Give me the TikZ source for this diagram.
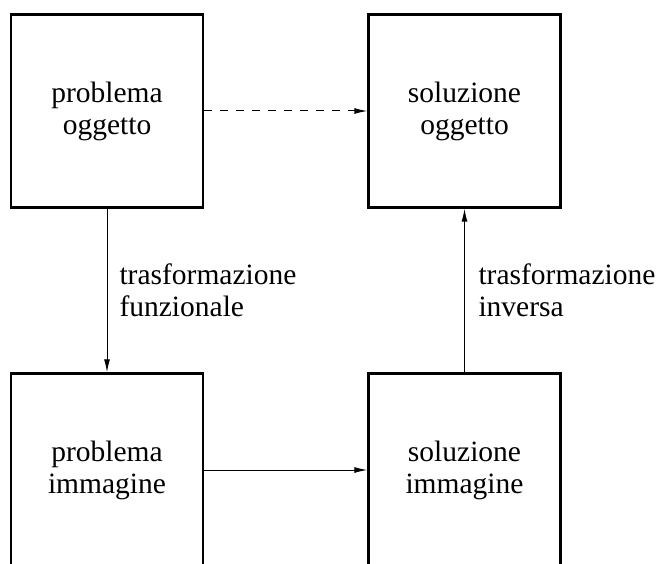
\documentclass[tikz,border=0pt]{standalone}
\usepackage{fontspec}
\setmainfont{Liberation Serif}
\usetikzlibrary{arrows.meta}

\begin{document}
\begin{tikzpicture}[x=1pt, y=1pt,
    box/.style={draw, line width=2.4pt, minimum width=192pt, minimum height=193pt,
      align=center, font=\fontsize{29.5}{32}\selectfont},
    link/.style={line width=1pt, -{Latex[length=13pt,width=6pt]}},
    note/.style={anchor=west, align=left, font=\fontsize{29.5}{32}\selectfont}]
        \useasboundingbox (0,0) rectangle (661,563);
        \clip (0,0) rectangle (661,563);

        % the four boxes
        \node [box] (probogg) at (107, 452) {problema\\oggetto};
        \node [box] (sologg) at (464.5, 452) {soluzione\\oggetto};
        \node [box] (probimm) at (107, 93) {problema\\immagine};
        \node [box] (solimm) at (464.5, 93) {soluzione\\immagine};

        % connectors
        \draw [link, dash pattern=on 8pt off 8pt] (probogg.east) -- (sologg.west);
        \draw [link] (probogg.south) -- (probimm.north);
        \draw [link] (probimm.east) -- (solimm.west);
        \draw [link] (solimm.north) -- (sologg.south);

        \node [note] (trasf) at (116, 273) {trasformazione\\funzionale};
        \node [note] (inv) at (475, 273) {trasformazione\\inversa};
    \end{tikzpicture}
\end{document}
